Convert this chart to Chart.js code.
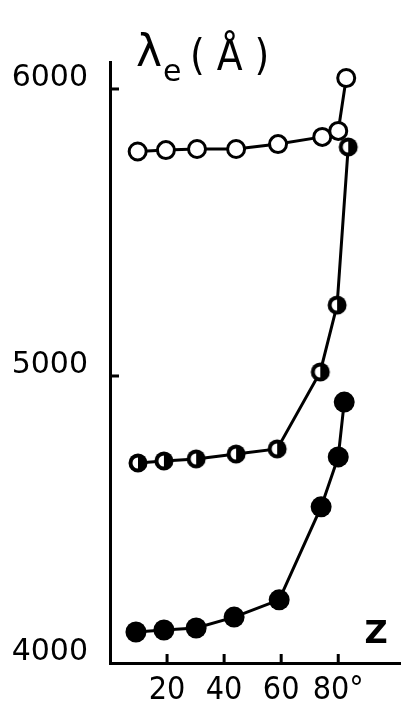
<!DOCTYPE html>
<html>
<head>
<meta charset="utf-8">
<script src="https://cdn.jsdelivr.net/npm/chart.js@4"></script>
<style>
  html, body { margin: 0; padding: 0; background: #fff; }
  canvas { display: block; }
</style>
</head>
<body>
<canvas id="myChart" width="401" height="708"></canvas>
<script>
// zenith angle z (deg) and lambda_e (A) for the three curves
var zOpen  = [9.7, 19.6, 30.5, 44.2, 58.9, 74.4, 80, 82.8];
var lOpen  = [5782, 5787, 5791, 5791, 5808, 5833, 5854, 6038];

var zHalf  = [9.8, 18.9, 30.2, 44.2, 58.6, 73.7, 79.6, 83.5];
var lHalf  = [4697, 4704, 4711, 4728, 4746, 5014, 5247, 5798];

var zFull  = [9.1, 18.9, 30.2, 43.5, 59.3, 74, 80, 82.1];
var lFull  = [4108, 4115, 4122, 4160, 4220, 4544, 4718, 4909];

var xTicks = [20, 40, 60, 80];
var yTicks = [4000, 5000, 6000];

function pts(xs, ys){
	return xs.map(function(x, i){ return {x: x, y: ys[i]}; });
}

// half filled marker
function halfDot(){
	var c = document.createElement('canvas');
	c.width = 22; c.height = 22;
	var g = c.getContext('2d');
	g.beginPath(); g.arc(11, 11, 9.5, 0, 2 * Math.PI);
	g.fillStyle = '#000'; g.fill();
	g.beginPath(); g.arc(11, 11, 5.5, Math.PI / 2, Math.PI * 1.5); g.closePath();
	g.fillStyle = '#fff'; g.fill();
	return c;
}

// inward tick marks + axis titles
var extras = {
	id: 'extras',
	afterDraw: function(chart){
		var ctx = chart.ctx, a = chart.chartArea;
		var xs = chart.scales.x, ys = chart.scales.y;
		ctx.save();
		ctx.strokeStyle = '#000';
		ctx.lineWidth = 3;
		yTicks.forEach(function(v){
			if (v === ys.min) return;
			var py = ys.getPixelForValue(v);
			ctx.beginPath(); ctx.moveTo(a.left, py); ctx.lineTo(a.left + 9, py); ctx.stroke();
		});
		xTicks.forEach(function(v){
			var px = xs.getPixelForValue(v);
			ctx.beginPath(); ctx.moveTo(px, a.bottom); ctx.lineTo(px, a.bottom - 9); ctx.stroke();
		});

		ctx.fillStyle = '#000';
		ctx.textBaseline = 'alphabetic';
		ctx.textAlign = 'left';
		ctx.font = '44px "DejaVu Sans"';
		ctx.fillText('λ', 136, 66);
		ctx.font = '30px "DejaVu Sans"';
		ctx.fillText('e', 163, 81);
		ctx.font = '42px "DejaVu Sans Condensed"';
		ctx.fillText('( Å )', 190, 70);

		ctx.font = 'bold 32px "DejaVu Sans"';
		ctx.textAlign = 'center';
		ctx.fillText('Z', 376, 643);
		ctx.restore();
	}
};

var ctx = document.getElementById('myChart').getContext('2d');
var chart = new Chart(ctx, {
	type: 'scatter',
	data: {
		datasets: [{
			label: 'open',
			data: pts(zOpen, lOpen),
			showLine: true,
			borderColor: '#000',
			borderWidth: 3,
			pointStyle: 'circle',
			pointRadius: 8.5,
			pointBorderWidth: 3,
			pointBackgroundColor: '#fff',
			pointBorderColor: '#000'
		}, {
			label: 'half',
			data: pts(zHalf, lHalf),
			showLine: true,
			borderColor: '#000',
			borderWidth: 3,
			pointStyle: halfDot(),
			pointRadius: 10
		}, {
			label: 'full',
			data: pts(zFull, lFull),
			showLine: true,
			borderColor: '#000',
			borderWidth: 3,
			pointStyle: 'circle',
			pointRadius: 10.5,
			pointBorderWidth: 0,
			pointBackgroundColor: '#000',
			pointBorderColor: '#000'
		}]
	},
	options: {
		responsive: false,
		animation: false,
		layout: { autoPadding: false, padding: { top: 62, right: 0, left: 0, bottom: 0 } },
		plugins: { legend: { display: false }, tooltip: { enabled: false } },
		scales: {
			x: {
				type: 'linear',
				min: 0,
				max: 102,
				afterBuildTicks: function(s){ s.ticks = xTicks.map(function(v){ return {value: v}; }); },
				afterFit: function(s){ s.height = 45; },
				grid: { display: false, drawTicks: false },
				border: { display: true, color: '#000', width: 3 },
				ticks: {
					color: '#000',
					padding: 8,
					maxRotation: 0,
					font: { family: '"DejaVu Sans Condensed"', size: 32 },
					callback: function(v){ return v === 80 ? '80°' : String(v); }
				}
			},
			y: {
				type: 'linear',
				min: 4000,
				max: 6094,
				afterBuildTicks: function(s){ s.ticks = yTicks.map(function(v){ return {value: v}; }); },
				afterFit: function(s){ s.width = 110; },
				grid: { display: false, drawTicks: false },
				border: { display: true, color: '#000', width: 3 },
				ticks: {
					color: '#000',
					padding: 22,
					labelOffset: -11,
					font: { family: '"DejaVu Sans"', size: 30 },
					callback: function(v){ return String(v); }
				}
			}
		}
	},
	plugins: [extras]
});
</script>
</body>
</html>
